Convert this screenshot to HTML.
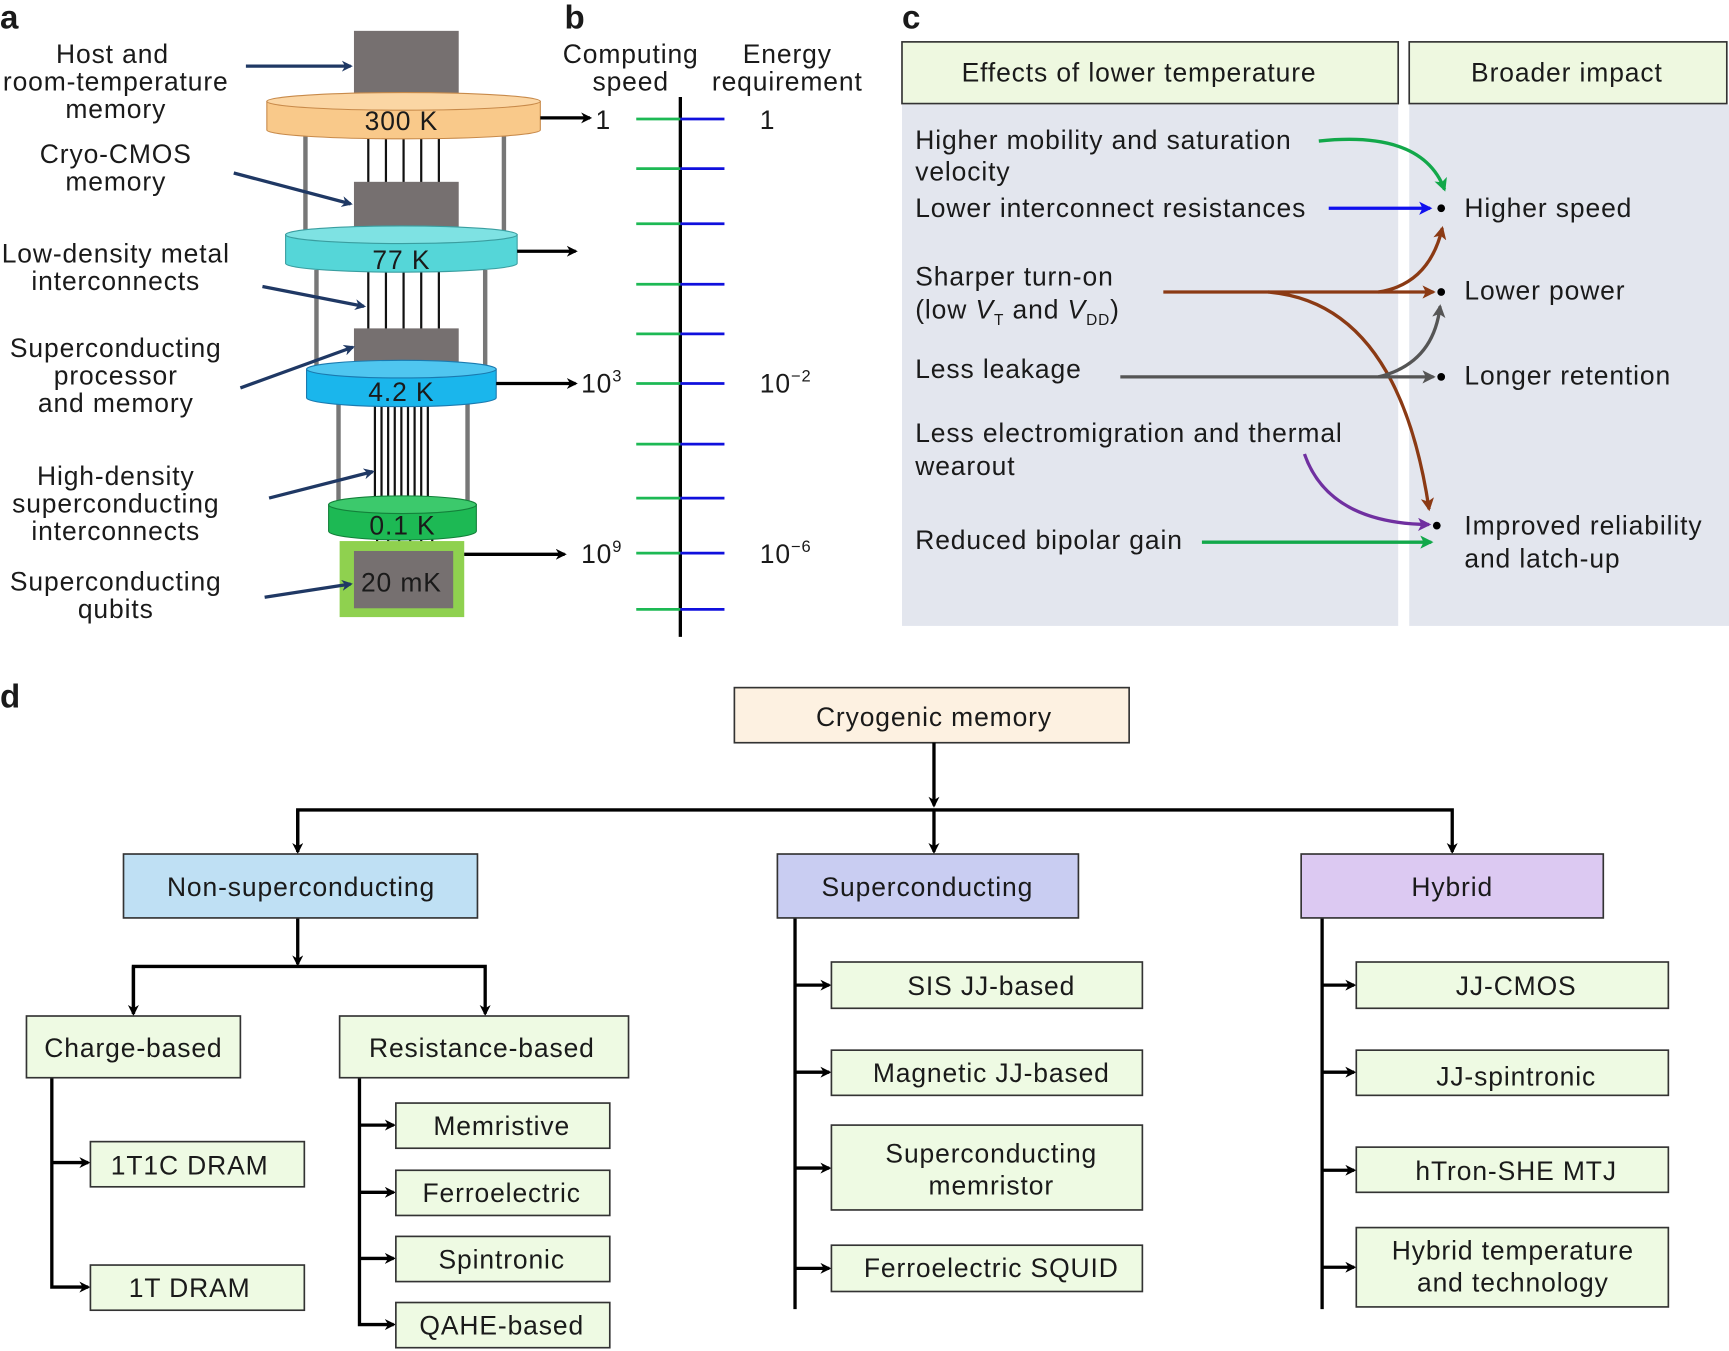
<!DOCTYPE html>
<html><head><meta charset="utf-8"><style>
html,body{margin:0;padding:0;background:#fff;}
svg{display:block;}
text{font-family:"Liberation Sans",sans-serif;font-size:24px;letter-spacing:0.8px;fill:#1a1a1a;}
.b{font-weight:bold;font-size:30px;letter-spacing:0;}
.box{stroke:#333;stroke-width:1.5;}
.g{fill:#eefae3;stroke:#333;stroke-width:1.5;}
</style></head><body>
<svg width="1729" height="1351" viewBox="0 0 1568 1226" preserveAspectRatio="none" xmlns="http://www.w3.org/2000/svg">
<defs>
<marker id="ak" markerWidth="10" markerHeight="10" refX="8" refY="5" orient="auto" markerUnits="userSpaceOnUse"><path d="M0,0 L10,5 L0,10 L3,5z" fill="#000"/></marker>
<marker id="an" markerWidth="10" markerHeight="10" refX="8" refY="5" orient="auto" markerUnits="userSpaceOnUse"><path d="M0,0 L10,5 L0,10 L3,5z" fill="#1f3864"/></marker>
<marker id="ag" markerWidth="12" markerHeight="12" refX="10" refY="6" orient="auto" markerUnits="userSpaceOnUse"><path d="M0,0 L12,6 L0,12 L3,6z" fill="#12a84a"/></marker>
<marker id="ab" markerWidth="12" markerHeight="12" refX="10" refY="6" orient="auto" markerUnits="userSpaceOnUse"><path d="M0,0 L12,6 L0,12 L3,6z" fill="#1010ee"/></marker>
<marker id="abr" markerWidth="12" markerHeight="12" refX="10" refY="6" orient="auto" markerUnits="userSpaceOnUse"><path d="M0,0 L12,6 L0,12 L3,6z" fill="#8b3a14"/></marker>
<marker id="agr" markerWidth="12" markerHeight="12" refX="10" refY="6" orient="auto" markerUnits="userSpaceOnUse"><path d="M0,0 L12,6 L0,12 L3,6z" fill="#555"/></marker>
<marker id="ap" markerWidth="12" markerHeight="12" refX="10" refY="6" orient="auto" markerUnits="userSpaceOnUse"><path d="M0,0 L12,6 L0,12 L3,6z" fill="#7030a0"/></marker>
</defs>

<!-- Panel a -->
<text class="b" x="0" y="26">a</text>
<g stroke="#777" stroke-width="4">
<line x1="277" y1="120" x2="277" y2="212"/><line x1="457" y1="120" x2="457" y2="212"/>
<line x1="287" y1="245" x2="287" y2="332"/><line x1="440" y1="245" x2="440" y2="332"/>
<line x1="307" y1="365" x2="307" y2="455"/><line x1="424" y1="365" x2="424" y2="455"/>
</g>
<g stroke="#111" stroke-width="2">
<line x1="334" y1="122" x2="334" y2="166"/><line x1="350" y1="122" x2="350" y2="166"/><line x1="366" y1="122" x2="366" y2="166"/><line x1="382" y1="122" x2="382" y2="166"/><line x1="398" y1="122" x2="398" y2="166"/>
<line x1="334" y1="245" x2="334" y2="300"/><line x1="350" y1="245" x2="350" y2="300"/><line x1="366" y1="245" x2="366" y2="300"/><line x1="382" y1="245" x2="382" y2="300"/><line x1="398" y1="245" x2="398" y2="300"/>
<line x1="340" y1="365" x2="340" y2="455"/><line x1="346" y1="365" x2="346" y2="455"/><line x1="352" y1="365" x2="352" y2="455"/><line x1="358" y1="365" x2="358" y2="455"/><line x1="364" y1="365" x2="364" y2="455"/><line x1="370" y1="365" x2="370" y2="455"/><line x1="376" y1="365" x2="376" y2="455"/><line x1="382" y1="365" x2="382" y2="455"/><line x1="388" y1="365" x2="388" y2="455"/>
<line x1="342" y1="486" x2="342" y2="502"/><line x1="352" y1="486" x2="352" y2="502"/><line x1="362" y1="486" x2="362" y2="502"/><line x1="372" y1="486" x2="372" y2="502"/><line x1="382" y1="486" x2="382" y2="502"/><line x1="392" y1="486" x2="392" y2="502"/>
</g>
<rect x="321" y="28" width="95" height="62" fill="#767070"/>
<path d="M242,92 L242,118 A124,8 0 0 0 490,118 L490,92 Z" fill="#f9c98a" stroke="#c88a4a"/>
<ellipse cx="366" cy="92" rx="124" ry="8" fill="#fbd6a4" stroke="#c88a4a"/>
<text x="364" y="118" text-anchor="middle">300 K</text>
<rect x="321" y="165" width="95" height="45" fill="#767070"/>
<path d="M259,213 L259,239 A105,8 0 0 0 469,239 L469,213 Z" fill="#55d6d8" stroke="#3a9ea0"/>
<ellipse cx="364" cy="213" rx="105" ry="8" fill="#7ee2e3" stroke="#3a9ea0"/>
<text x="364" y="244" text-anchor="middle">77 K</text>
<rect x="321" y="298" width="95" height="34" fill="#767070"/>
<path d="M278,335 L278,361 A86,8 0 0 0 450,361 L450,335 Z" fill="#1ab6ec" stroke="#1a7ab0"/>
<ellipse cx="364" cy="335" rx="86" ry="8" fill="#4fc6f0" stroke="#1a7ab0"/>
<text x="364" y="364" text-anchor="middle">4.2 K</text>
<path d="M298,458 L298,482 A67,8 0 0 0 432,482 L432,458 Z" fill="#1db954" stroke="#13813a"/>
<ellipse cx="365" cy="458" rx="67" ry="8" fill="#3cc96c" stroke="#13813a"/>
<text x="365" y="485" text-anchor="middle">0.1 K</text>
<rect x="308" y="491" width="113" height="69" fill="#8fd14f"/>
<rect x="321" y="500" width="90" height="52" fill="#767070"/>
<text x="364" y="537" text-anchor="middle">20 mK</text>
<g text-anchor="middle">
<text x="102" y="57">Host and</text><text x="105" y="82">room-temperature</text><text x="105" y="107">memory</text>
<text x="105" y="148">Cryo-CMOS</text><text x="105" y="173">memory</text>
<text x="105" y="238">Low-density metal</text><text x="105" y="263">interconnects</text>
<text x="105" y="324">Superconducting</text><text x="105" y="349">processor</text><text x="105" y="374">and memory</text>
<text x="105" y="440">High-density</text><text x="105" y="465">superconducting</text><text x="105" y="490">interconnects</text>
<text x="105" y="536">Superconducting</text><text x="105" y="561">qubits</text>
</g>
<g stroke="#1f3864" stroke-width="3" marker-end="url(#an)">
<line x1="223" y1="60" x2="318" y2="60"/><line x1="212" y1="157" x2="318" y2="185"/><line x1="238" y1="260" x2="330" y2="278"/><line x1="218" y1="352" x2="320" y2="315"/><line x1="244" y1="452" x2="338" y2="428"/><line x1="240" y1="542" x2="318" y2="530"/>
</g>
<g stroke="#000" stroke-width="3" marker-end="url(#ak)">
<line x1="490" y1="107" x2="535" y2="107"/><line x1="469" y1="228" x2="522" y2="228"/><line x1="450" y1="348" x2="522" y2="348"/><line x1="421" y1="503" x2="512" y2="503"/>
</g>

<!-- Panel b -->
<text class="b" x="512" y="26">b</text>
<g text-anchor="middle"><text x="572" y="57">Computing</text><text x="572" y="82">speed</text><text x="714" y="57">Energy</text><text x="714" y="82">requirement</text></g>
<line x1="617" y1="88" x2="617" y2="578" stroke="#000" stroke-width="3"/>
<g stroke-width="2.5">
<g stroke="#1db954"><line x1="577" y1="108" x2="617" y2="108"/><line x1="577" y1="153" x2="617" y2="153"/><line x1="577" y1="203" x2="617" y2="203"/><line x1="577" y1="258" x2="617" y2="258"/><line x1="577" y1="303" x2="617" y2="303"/><line x1="577" y1="348" x2="617" y2="348"/><line x1="577" y1="403" x2="617" y2="403"/><line x1="577" y1="452" x2="617" y2="452"/><line x1="577" y1="502" x2="617" y2="502"/><line x1="577" y1="553" x2="617" y2="553"/></g>
<g stroke="#1010dd"><line x1="617" y1="108" x2="657" y2="108"/><line x1="617" y1="153" x2="657" y2="153"/><line x1="617" y1="203" x2="657" y2="203"/><line x1="617" y1="258" x2="657" y2="258"/><line x1="617" y1="303" x2="657" y2="303"/><line x1="617" y1="348" x2="657" y2="348"/><line x1="617" y1="403" x2="657" y2="403"/><line x1="617" y1="452" x2="657" y2="452"/><line x1="617" y1="502" x2="657" y2="502"/><line x1="617" y1="553" x2="657" y2="553"/></g>
</g>
<text x="540" y="117">1</text><text x="689" y="117">1</text>
<text x="527" y="356">10<tspan dy="-10" font-size="15">3</tspan></text>
<text x="689" y="356">10<tspan dy="-10" font-size="15">−2</tspan></text>
<text x="527" y="511">10<tspan dy="-10" font-size="15">9</tspan></text>
<text x="689" y="511">10<tspan dy="-10" font-size="15">−6</tspan></text>

<!-- Panel c -->
<text class="b" x="818" y="26">c</text>
<rect x="818" y="95" width="450" height="473" fill="#e3e6ee"/>
<rect x="1278" y="95" width="290" height="473" fill="#e3e6ee"/>
<rect x="818" y="38" width="450" height="56" fill="#eef8e0" class="box"/>
<rect x="1278" y="38" width="288" height="56" fill="#eef8e0" class="box"/>
<text x="1033" y="74" text-anchor="middle">Effects of lower temperature</text>
<text x="1421" y="74" text-anchor="middle">Broader impact</text>
<text x="830" y="135">Higher mobility and saturation</text><text x="830" y="164">velocity</text>
<text x="830" y="197">Lower interconnect resistances</text>
<text x="830" y="259">Sharper turn-on</text>
<text x="830" y="289">(low <tspan font-style="italic">V</tspan><tspan font-size="14" dy="6">T</tspan><tspan dy="-6"> and </tspan><tspan font-style="italic">V</tspan><tspan font-size="14" dy="6">DD</tspan><tspan dy="-6">)</tspan></text>
<text x="830" y="343">Less leakage</text>
<text x="830" y="401">Less electromigration and thermal</text><text x="830" y="431">wearout</text>
<text x="830" y="498">Reduced bipolar gain</text>
<g fill="#000"><circle cx="1307" cy="189" r="3.5"/><circle cx="1307" cy="265" r="3.5"/><circle cx="1307" cy="342" r="3.5"/><circle cx="1303" cy="477" r="3.5"/></g>
<text x="1328" y="197">Higher speed</text><text x="1328" y="272">Lower power</text><text x="1328" y="349">Longer retention</text>
<text x="1328" y="485">Improved reliability</text><text x="1328" y="515">and latch-up</text>
<g fill="none" stroke-width="3">
<path d="M1196,128 Q1290,118 1310,172" stroke="#12a84a" marker-end="url(#ag)"/>
<line x1="1205" y1="189" x2="1297" y2="189" stroke="#1010ee" marker-end="url(#ab)"/>
<line x1="1055" y1="265" x2="1300" y2="265" stroke="#8b3a14" marker-end="url(#abr)"/>
<path d="M1250,265 Q1296,258 1308,207" stroke="#8b3a14" marker-end="url(#abr)"/>
<path d="M1150,265 Q1268,275 1296,462" stroke="#8b3a14" marker-end="url(#abr)"/>
<line x1="1016" y1="342" x2="1300" y2="342" stroke="#555" marker-end="url(#agr)"/>
<path d="M1250,342 Q1300,330 1306,278" stroke="#555" marker-end="url(#agr)"/>
<path d="M1183,412 Q1205,475 1296,476" stroke="#7030a0" marker-end="url(#ap)"/>
<line x1="1090" y1="492" x2="1298" y2="492" stroke="#12a84a" marker-end="url(#ag)"/>
</g>

<!-- Panel d -->
<text class="b" x="0" y="642">d</text>
<rect x="666" y="624" width="358" height="50" fill="#fdf1e1" class="box"/>
<text x="847" y="659" text-anchor="middle">Cryogenic memory</text>
<g stroke="#000" stroke-width="3" fill="none">
<line x1="847" y1="674" x2="847" y2="731" marker-end="url(#ak)"/>
<polyline points="270,773 270,735 1317,735 1317,773" marker-end="url(#ak)"/>
<line x1="270" y1="735" x2="270" y2="773" marker-end="url(#ak)"/>
<line x1="847" y1="735" x2="847" y2="773" marker-end="url(#ak)"/>
<line x1="270" y1="833" x2="270" y2="875" marker-end="url(#ak)"/>
<polyline points="121,920 121,877 440,877 440,920" marker-end="url(#ak)"/>
<line x1="121" y1="877" x2="121" y2="920" marker-end="url(#ak)"/>
<polyline points="47,978 47,1168 80,1168" marker-end="url(#ak)"/>
<line x1="47" y1="1055" x2="80" y2="1055" marker-end="url(#ak)"/>
<polyline points="326,978 326,1202 357,1202" marker-end="url(#ak)"/>
<line x1="326" y1="1021" x2="357" y2="1021" marker-end="url(#ak)"/>
<line x1="326" y1="1082" x2="357" y2="1082" marker-end="url(#ak)"/>
<line x1="326" y1="1142" x2="357" y2="1142" marker-end="url(#ak)"/>
<line x1="721" y1="833" x2="721" y2="1188"/>
<line x1="721" y1="894" x2="752" y2="894" marker-end="url(#ak)"/>
<line x1="721" y1="973" x2="752" y2="973" marker-end="url(#ak)"/>
<line x1="721" y1="1060" x2="752" y2="1060" marker-end="url(#ak)"/>
<line x1="721" y1="1151" x2="752" y2="1151" marker-end="url(#ak)"/>
<line x1="1199" y1="833" x2="1199" y2="1188"/>
<line x1="1199" y1="894" x2="1228" y2="894" marker-end="url(#ak)"/>
<line x1="1199" y1="973" x2="1228" y2="973" marker-end="url(#ak)"/>
<line x1="1199" y1="1062" x2="1228" y2="1062" marker-end="url(#ak)"/>
<line x1="1199" y1="1150" x2="1228" y2="1150" marker-end="url(#ak)"/>
</g>
<rect x="112" y="775" width="321" height="58" fill="#bfe0f4" class="box"/>
<rect x="705" y="775" width="273" height="58" fill="#c9cdf2" class="box"/>
<rect x="1180" y="775" width="274" height="58" fill="#dcc9f2" class="box"/>
<rect x="24" y="922" width="194" height="56" class="g"/>
<rect x="308" y="922" width="262" height="56" class="g"/>
<rect x="82" y="1036" width="194" height="41" class="g"/>
<rect x="82" y="1148" width="194" height="41" class="g"/>
<rect x="359" y="1001" width="194" height="41" class="g"/>
<rect x="359" y="1062" width="194" height="41" class="g"/>
<rect x="359" y="1122" width="194" height="41" class="g"/>
<rect x="359" y="1182" width="194" height="41" class="g"/>
<rect x="754" y="873" width="282" height="42" class="g"/>
<rect x="754" y="953" width="282" height="41" class="g"/>
<rect x="754" y="1021" width="282" height="77" class="g"/>
<rect x="754" y="1130" width="282" height="42" class="g"/>
<rect x="1230" y="873" width="283" height="42" class="g"/>
<rect x="1230" y="953" width="283" height="41" class="g"/>
<rect x="1230" y="1041" width="283" height="41" class="g"/>
<rect x="1230" y="1114" width="283" height="72" class="g"/>
<g text-anchor="middle">
<text x="273" y="813">Non-superconducting</text>
<text x="841" y="813">Superconducting</text>
<text x="1317" y="813">Hybrid</text>
<text x="121" y="959">Charge-based</text>
<text x="437" y="959">Resistance-based</text>
<text x="172" y="1066">1T1C DRAM</text>
<text x="172" y="1177">1T DRAM</text>
<text x="455" y="1030">Memristive</text>
<text x="455" y="1091">Ferroelectric</text>
<text x="455" y="1151">Spintronic</text>
<text x="455" y="1211">QAHE-based</text>
<text x="899" y="903">SIS JJ-based</text>
<text x="899" y="982">Magnetic JJ-based</text>
<text x="899" y="1055">Superconducting</text>
<text x="899" y="1084">memristor</text>
<text x="899" y="1159">Ferroelectric SQUID</text>
<text x="1375" y="903">JJ-CMOS</text>
<text x="1375" y="985">JJ-spintronic</text>
<text x="1375" y="1071">hTron-SHE MTJ</text>
<text x="1372" y="1143">Hybrid temperature</text>
<text x="1372" y="1172">and technology</text>
</g>
</svg>
</body></html>
